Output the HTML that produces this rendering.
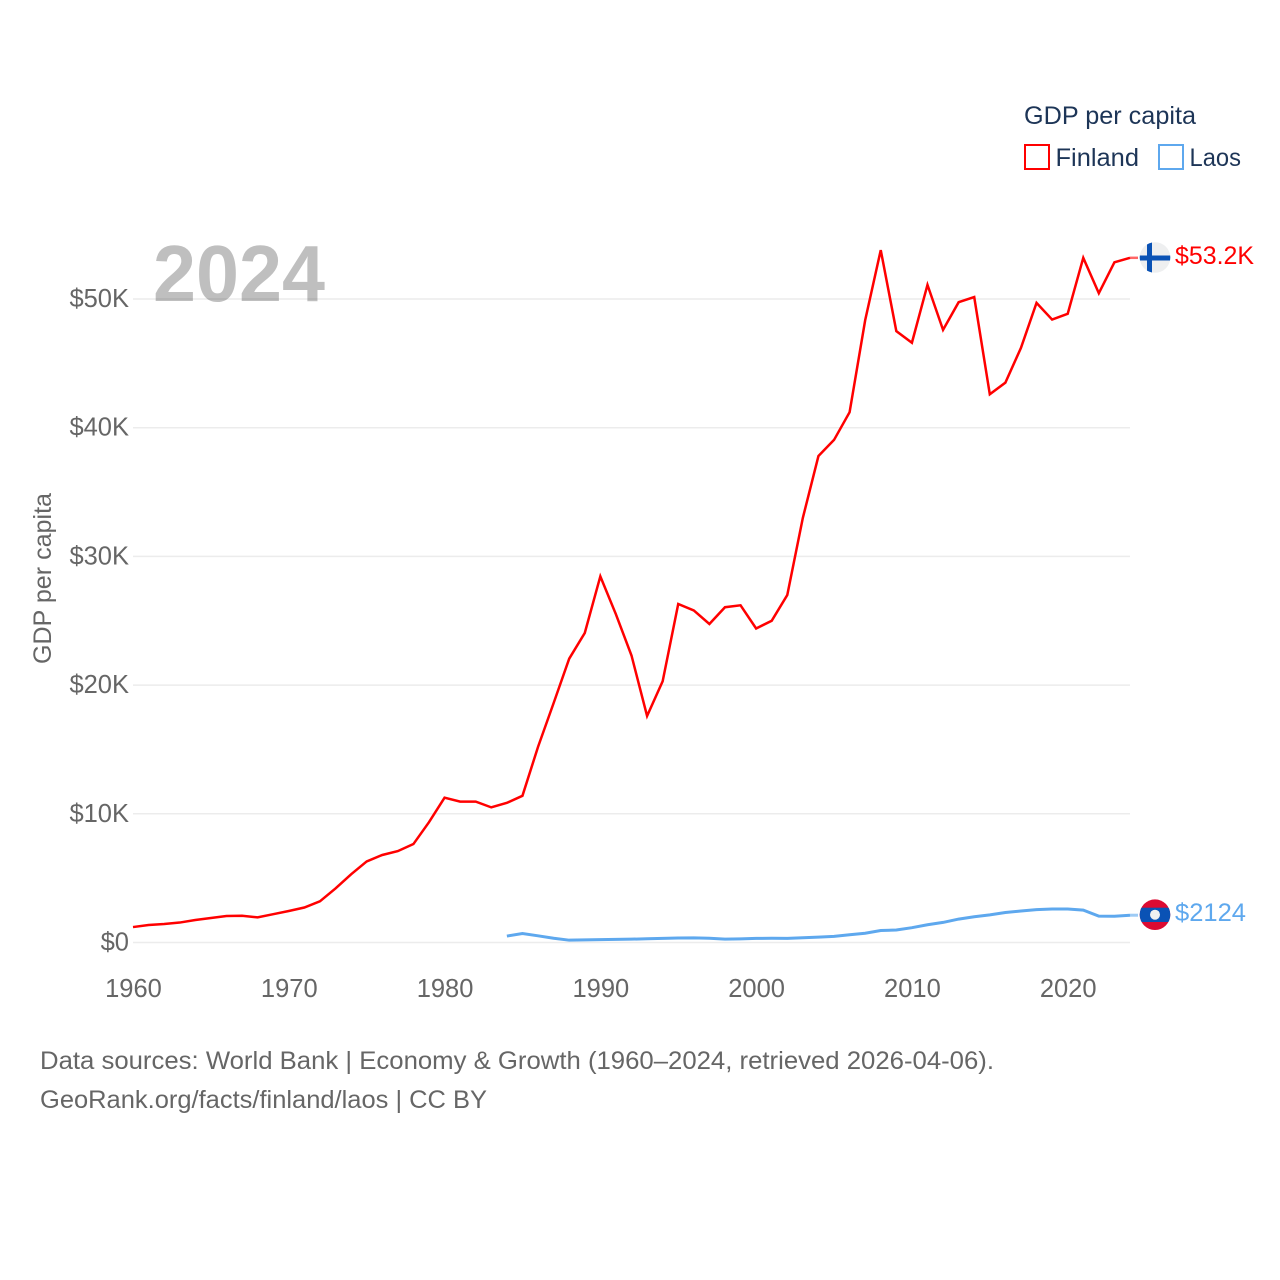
<!DOCTYPE html>
<html lang="en">
<head>
<meta charset="utf-8">
<title>GDP per capita: Finland and Laos</title>
<style>
html,body{margin:0;padding:0;background:#fff}
svg{display:block}
text{font-family:"Liberation Sans",sans-serif}
</style>
</head>
<body>
<svg id="chart" width="1280" height="1280" viewBox="0 0 1280 1280" xmlns="http://www.w3.org/2000/svg">
  <rect width="1280" height="1280" fill="#fff"/>
  <g id="grid"></g>
  <text x="153" y="301" font-size="80" font-weight="700" fill="#000" fill-opacity="0.25" textLength="172" lengthAdjust="spacingAndGlyphs">2024</text>
  <g id="yticks"></g>
  <g id="xticks"></g>
  <text transform="translate(51 578.5) rotate(-90)" text-anchor="middle" font-size="25" fill="#666" textLength="171" lengthAdjust="spacingAndGlyphs">GDP per capita</text>
  <g id="lines"></g>

  <g>
    <clipPath id="fi-clip"><circle cx="1155" cy="257.5" r="15.3"/></clipPath>
    <g clip-path="url(#fi-clip)">
      <rect x="1139" y="242" width="32" height="32" fill="#eeeff0"/>
      <rect x="1147" y="242" width="5" height="32" fill="#0a52b5"/>
      <rect x="1139" y="255.5" width="32" height="5" fill="#0a52b5"/>
    </g>
  </g>
  <g>
    <clipPath id="la-clip"><circle cx="1155" cy="914.7" r="15.3"/></clipPath>
    <g clip-path="url(#la-clip)">
      <rect x="1139" y="899" width="32" height="32" fill="#dc0b32"/>
      <rect x="1139" y="907.7" width="32" height="14.3" fill="#0a52b5"/>
      <circle cx="1155" cy="914.7" r="5" fill="#eeeff0"/>
    </g>
  </g>
  <text x="1175" y="264" font-size="25" fill="#ff0000" textLength="79" lengthAdjust="spacingAndGlyphs">$53.2K</text>
  <text x="1175" y="921" font-size="25" fill="#5ea8ee" textLength="71" lengthAdjust="spacingAndGlyphs">$2124</text>

  <g>
    <text x="1024" y="124" font-size="25" fill="#1d3557" textLength="172" lengthAdjust="spacingAndGlyphs">GDP per capita</text>
    <g>
      <rect x="1025" y="145" width="24" height="24" fill="none" stroke="#ff0000" stroke-width="2"/>
      <text x="1055.5" y="166" font-size="25" fill="#1d3557" textLength="83.5" lengthAdjust="spacingAndGlyphs">Finland</text>
    </g>
    <g>
      <rect x="1159" y="145" width="24" height="24" fill="none" stroke="#5ea8ee" stroke-width="2"/>
      <text x="1189.5" y="166" font-size="25" fill="#1d3557" textLength="51.5" lengthAdjust="spacingAndGlyphs">Laos</text>
    </g>
  </g>

  <g>
    <text x="40" y="1069" font-size="25" fill="#666" textLength="954" lengthAdjust="spacingAndGlyphs">Data sources: World Bank | Economy &amp; Growth (1960–2024, retrieved 2026-04-06).</text>
    <text x="40" y="1108" font-size="25" fill="#666" textLength="447" lengthAdjust="spacingAndGlyphs">GeoRank.org/facts/finland/laos | CC BY</text>
  </g>
</svg>
<script>
const finlandStart = 1960;
const finlandValues = [1.2,1.36,1.44,1.55,1.75,1.9,2.06,2.08,1.95,2.2,2.45,2.72,3.2,4.2,5.3,6.3,6.8,7.1,7.65,9.35,11.25,10.95,10.95,10.5,10.85,11.4,15.2,18.6,22.05,24.05,28.45,25.5,22.3,17.6,20.3,26.3,25.8,24.75,26.05,26.2,24.4,25.0,27.0,33.0,37.8,39.05,41.2,48.35,53.8,47.5,46.6,51.1,47.6,49.75,50.15,42.6,43.5,46.2,49.7,48.4,48.85,53.2,50.45,52.85,53.2];
const laosStart = 1984;
const laosValues = [0.5,0.7,0.52,0.33,0.18,0.2,0.22,0.24,0.26,0.29,0.32,0.35,0.36,0.33,0.26,0.28,0.32,0.33,0.32,0.37,0.42,0.48,0.6,0.72,0.93,0.97,1.15,1.38,1.56,1.82,2.0,2.15,2.33,2.45,2.55,2.6,2.6,2.52,2.05,2.04,2.12];
const yTickValues = [0,10,20,30,40,50];
const yTickLabels = ["$0","$10K","$20K","$30K","$40K","$50K"];
const xTickYears = [1960,1970,1980,1990,2000,2010,2020];

const NS = "http://www.w3.org/2000/svg";
const xScale = function (year) { return 133 + (year - 1960) * (1130 - 133) / (2024 - 1960); };
const yScale = function (value) { return 942.5 - value * (942.5 - 299) / 50; };

const gridGroup = document.getElementById("grid");
const yGroup = document.getElementById("yticks");
const xGroup = document.getElementById("xticks");
const lineGroup = document.getElementById("lines");

yTickValues.forEach(function (value, i) {
  const line = document.createElementNS(NS, "line");
  line.setAttribute("x1", 133);
  line.setAttribute("x2", 1130);
  line.setAttribute("y1", yScale(value));
  line.setAttribute("y2", yScale(value));
  line.setAttribute("stroke", "#ececec");
  line.setAttribute("stroke-width", "1.5");
  
  
  gridGroup.appendChild(line);

  const label = document.createElementNS(NS, "text");
  label.setAttribute("x", 129);
  label.setAttribute("y", yScale(value) + 8);
  label.setAttribute("text-anchor", "end");
  label.setAttribute("font-size", "25.5");
  label.setAttribute("fill", "#666");
  label.textContent = yTickLabels[i];
  
  
  yGroup.appendChild(label);
});

xTickYears.forEach(function (year) {
  const label = document.createElementNS(NS, "text");
  label.setAttribute("x", xScale(year) + 0.5);
  label.setAttribute("y", 997);
  label.setAttribute("text-anchor", "middle");
  label.setAttribute("font-size", "25.5");
  label.setAttribute("fill", "#666");
  label.textContent = String(year);
  
  
  xGroup.appendChild(label);
});

function drawSeries(values, startYear, color, width) {
  const pts = values.map(function (v, i) {
    return xScale(startYear + i).toFixed(2) + "," + yScale(v).toFixed(2);
  }).join(" ");
  const path = document.createElementNS(NS, "polyline");
  path.setAttribute("points", pts);
  path.setAttribute("fill", "none");
  path.setAttribute("stroke", color);
  path.setAttribute("stroke-width", width);
  path.setAttribute("stroke-linejoin", "miter");
  
  
  lineGroup.appendChild(path);

  const lastY = yScale(values[values.length - 1]);
  const tail = document.createElementNS(NS, "line");
  tail.setAttribute("x1", xScale(startYear + values.length - 1));
  tail.setAttribute("x2", 1138);
  tail.setAttribute("y1", lastY);
  tail.setAttribute("y2", lastY);
  tail.setAttribute("stroke", color);
  tail.setAttribute("stroke-width", width);
  tail.setAttribute("stroke-opacity", "0.6");
  
  
  lineGroup.appendChild(tail);
}

drawSeries(finlandValues, finlandStart, "#ff0000", "2.5");
drawSeries(laosValues, laosStart, "#5ea8ee", "3");
</script>
</body>
</html>
